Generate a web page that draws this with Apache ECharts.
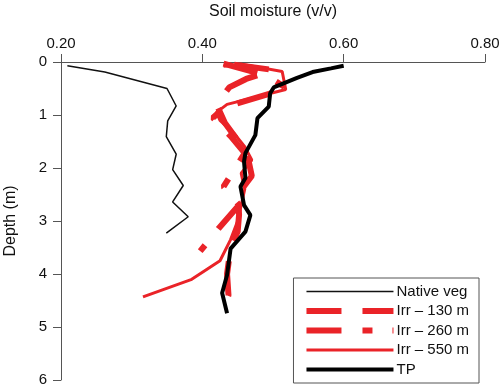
<!DOCTYPE html>
<html>
<head>
<meta charset="utf-8">
<script src="https://cdn.jsdelivr.net/npm/echarts@6/dist/echarts.min.js"></script>
<style>
  html, body { margin: 0; padding: 0; background: #fff; }
  #main { width: 500px; height: 392px; }
</style>
</head>
<body>
<div id="main"></div>
<script>
// soil moisture (v/v) and depth (m) per profile
var nativeMoist = [0.209, 0.262, 0.350, 0.363, 0.351, 0.349, 0.363, 0.358, 0.373, 0.358, 0.380, 0.349];
var nativeDepth = [0.07, 0.19, 0.50, 0.83, 1.11, 1.41, 1.74, 2.03, 2.33, 2.64, 2.92, 3.23];

var irr130Moist = [0.445, 0.500, 0.462, 0.438, 0.420, 0.432, 0.455, 0.466, 0.470, 0.450, 0.452, 0.450, 0.440, 0.435, 0.437, 0.430];
var irr130Depth = [0.05, 0.15, 0.32, 0.48, 0.80, 1.15, 1.57, 1.90, 2.15, 2.50, 2.88, 3.20, 3.50, 4.00, 4.40, 4.65];

var irr260Moist = [0.430, 0.490, 0.520, 0.432, 0.415, 0.440, 0.460, 0.430, 0.452, 0.423, 0.397];
var irr260Depth = [0.03, 0.25, 0.50, 0.85, 1.05, 1.40, 1.72, 2.35, 2.70, 3.14, 3.57];

var irr550Moist = [0.430, 0.455, 0.513, 0.518, 0.435, 0.420, 0.425, 0.445, 0.460, 0.470, 0.455, 0.460, 0.455, 0.450, 0.440, 0.425, 0.385, 0.316];
var irr550Depth = [0.08, 0.04, 0.18, 0.52, 0.80, 0.95, 1.10, 1.35, 1.60, 1.85, 2.10, 2.40, 2.70, 3.00, 3.35, 3.75, 4.10, 4.43];

var tpMoist = [0.600, 0.582, 0.556, 0.534, 0.501, 0.496, 0.494, 0.478, 0.475, 0.461, 0.459, 0.461, 0.454, 0.459, 0.468, 0.461, 0.440, 0.435, 0.428, 0.435];
var tpDepth = [0.07, 0.12, 0.19, 0.30, 0.48, 0.59, 0.84, 1.06, 1.38, 1.72, 1.88, 2.19, 2.35, 2.70, 2.89, 3.20, 3.52, 4.02, 4.36, 4.74];

var seriesNames = ['Native veg', 'Irr \u2013 130 m', 'Irr \u2013 260 m', 'Irr \u2013 550 m', 'TP'];

function pairs(xs, ys) {
    return xs.map(function (x, i) { return [x, ys[i]]; });
}

var myChart = echarts.init(document.getElementById('main'));
var red = '#ea2328';
var font = 'Liberation Sans, Arial, sans-serif';

// line looks, shared by the series and their legend icons
var looks = [
    { color: '#111', width: 1.5, type: 'solid', z: 2 },
    { color: red, width: 6, type: [35, 21], z: 3 },
    { color: red, width: 6, type: [35, 21, 10, 20], z: 3 },
    { color: red, width: 3, type: 'solid', z: 4 },
    { color: '#000', width: 4, type: 'solid', z: 5 }
];
var dataSets = [
    pairs(nativeMoist, nativeDepth),
    pairs(irr130Moist, irr130Depth),
    pairs(irr260Moist, irr260Depth),
    pairs(irr550Moist, irr550Depth),
    pairs(tpMoist, tpDepth)
];

var option = {
    animation: false,
    grid: { left: 61, top: 62, right: 15, bottom: 12, outerBoundsMode: 'none', containLabel: false },
    legend: {
        orient: 'vertical',
        right: 21,
        bottom: 9,
        padding: [6, 10, 6, 10],
        itemWidth: 87,
        itemHeight: 10,
        itemGap: 4.5,
        borderColor: '#555',
        borderWidth: 1,
        itemStyle: { opacity: 0 },
        textStyle: { fontFamily: font, fontSize: 15, color: '#111', padding: [0, 0, 0, -2] },
        data: seriesNames.map(function (n, i) {
            return {
                name: n,
                lineStyle: { color: looks[i].color, width: looks[i].width, type: looks[i].type, opacity: 1 }
            };
        })
    },
    xAxis: {
        type: 'value',
        position: 'top',
        min: 0.2,
        max: 0.8,
        interval: 0.2,
        name: 'Soil moisture (v/v)',
        nameLocation: 'middle',
        nameGap: 42,
        nameTextStyle: { fontFamily: font, fontSize: 16, color: '#111' },
        axisLine: { show: true, lineStyle: { color: '#555', width: 1 } },
        axisTick: { show: true, length: 8, lineStyle: { color: '#555' } },
        axisLabel: {
            fontFamily: font, fontSize: 15, color: '#111', margin: 11,
            formatter: function (v) { return v.toFixed(2); }
        },
        splitLine: { show: false }
    },
    yAxis: {
        type: 'value',
        inverse: true,
        min: 0,
        max: 6,
        interval: 1,
        name: 'Depth (m)',
        nameLocation: 'middle',
        nameGap: 42,
        nameTextStyle: { fontFamily: font, fontSize: 16, color: '#111' },
        axisLine: { show: true, lineStyle: { color: '#555', width: 1 } },
        axisTick: { show: true, length: 8, lineStyle: { color: '#555' } },
        axisLabel: { fontFamily: font, fontSize: 15, color: '#111', margin: 14 },
        splitLine: { show: false }
    },
    series: seriesNames.map(function (n, i) {
        return {
            name: n,
            type: 'line',
            data: dataSets[i],
            showSymbol: false,
            symbol: 'none',
            silent: true,
            z: looks[i].z,
            lineStyle: { color: looks[i].color, width: looks[i].width, type: looks[i].type },
            itemStyle: { color: looks[i].color }
        };
    })
};

myChart.setOption(option);
</script>
</body>
</html>
